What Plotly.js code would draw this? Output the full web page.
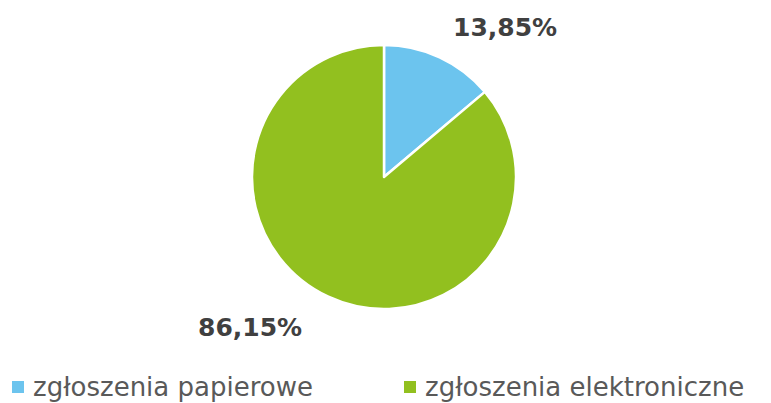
<!DOCTYPE html>
<html>
<head>
<meta charset="utf-8">
<script src="https://cdn.plot.ly/plotly-3.0.1.min.js"></script>
<style>html,body{margin:0;padding:0;background:#fff;}#chart{width:771px;height:403px;}</style>
</head>
<body>
<div id="chart"></div>
<script>
const categories = ["zgłoszenia papierowe", "zgłoszenia elektroniczne"];
const values = [13.85, 86.15];
const colors = ["#6CC4EE", "#92C01F"];

function fmt(v) { return v.toFixed(2).replace(".", ",") + "%"; }
const W = 771, H = 403;
const px = x => x / W, py = y => 1 - y / H;

const data = [{
  type: "pie",
  labels: categories,
  values: values,
  sort: false,
  direction: "clockwise",
  rotation: 0,
  textinfo: "none",
  hoverinfo: "label+percent",
  marker: { colors: colors, line: { color: "#ffffff", width: 2.5 } },
  domain: { x: [px(252), px(516)], y: [py(309), py(45)] }
}];

// manual legend layout (positions only)
const legendX = [12, 404];
const shapes = categories.map((c, i) => ({
  type: "rect", xref: "paper", yref: "paper",
  x0: px(legendX[i]), x1: px(legendX[i] + 12), y0: py(393), y1: py(381),
  fillcolor: colors[i], line: { width: 0 }
}));
const legendAnn = categories.map((c, i) => ({
  text: c, xref: "paper", yref: "paper",
  x: px(legendX[i] + 19), y: py(387), xanchor: "left", yanchor: "middle",
  showarrow: false,
  font: { size: 26, color: "#595959", family: "DejaVu Sans, sans-serif" }
}));

const layout = {
  width: W, height: H,
  margin: { l: 0, r: 0, t: 0, b: 0 },
  paper_bgcolor: "#ffffff",
  font: { family: "DejaVu Sans, sans-serif", color: "#595959" },
  showlegend: false,
  shapes: shapes,
  annotations: [
    { text: "<b>" + fmt(values[0]) + "</b>", x: px(505), y: py(28), xref: "paper", yref: "paper",
      xanchor: "center", yanchor: "middle", showarrow: false,
      font: { size: 25, color: "#404040", family: "DejaVu Sans, sans-serif" } },
    { text: "<b>" + fmt(values[1]) + "</b>", x: px(250), y: py(327), xref: "paper", yref: "paper",
      xanchor: "center", yanchor: "middle", showarrow: false,
      font: { size: 25, color: "#404040", family: "DejaVu Sans, sans-serif" } }
  ].concat(legendAnn)
};

Plotly.newPlot("chart", data, layout, { displayModeBar: false, staticPlot: true });
</script>
</body>
</html>
